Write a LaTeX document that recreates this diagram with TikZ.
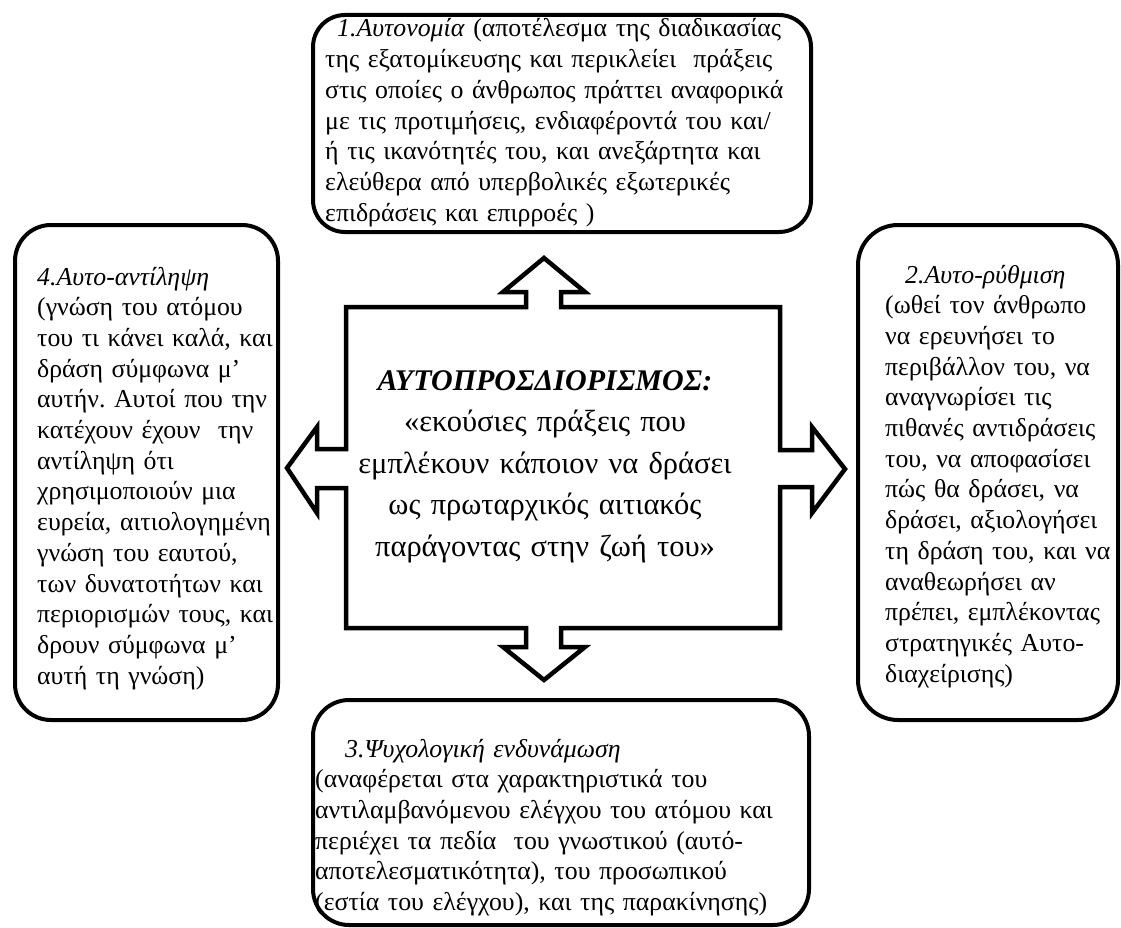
\documentclass[tikz,border=0pt]{standalone}
\usepackage{fontspec}
\setmainfont{Liberation Serif}
\usepackage{tikz}
\frenchspacing

\begin{document}
\begin{tikzpicture}[x=1pt,y=-1pt,
    frame/.style={draw,line width=4pt,rounded corners=#1},
    frame/.default=32pt,
    body/.style={inner sep=0pt,anchor=base west,align=left,text width=#1,
      font=\fontsize{25.8}{30.7}\selectfont},
    core/.style={inner sep=0pt,anchor=base,align=center,text width=440pt,
      font=\fontsize{30.5}{41.5}\selectfont}]
  \useasboundingbox (0,0) rectangle (1121,928);

  % the four rounded boxes
  \draw[frame] (313,15) rectangle (811,232);
  \draw[frame=36pt] (15,225) rectangle (278,720);
  \draw[frame=40pt] (858,225) rectangle (1118,720);
  \draw[frame=36pt] (313,700) rectangle (809,925);

  % square with the four arrows
  \draw[line width=4.5pt,line join=miter]
    (346,307) -- (526,307) -- (526,292) -- (503,292) -- (544,258)
    -- (585,292) -- (561,292) -- (561,307) -- (780,307)
    -- (780,450) -- (812,450) -- (812,427) -- (845,469)
    -- (812,513) -- (812,487) -- (780,487) -- (780,628)
    -- (561,628) -- (561,647) -- (585,647) -- (544,680)
    -- (503,647) -- (526,647) -- (526,628) -- (346,628)
    -- (346,488) -- (317,488) -- (317,513) -- (287,468)
    -- (317,427) -- (317,449) -- (346,449) -- cycle;

  \node[core] (self) at (545,390) {{\fontsize{30}{41.5}\selectfont\textbf{\textit{ΑΥΤΟΠΡΟΣΔΙΟΡΙΣΜΟΣ:}}}\\
    «εκούσιες πράξεις που\\
    εμπλέκουν κάποιον να δράσει\\
    ως πρωταρχικός αιτιακός\\
    παράγοντας στην ζωή του»};

  \node[body=520pt] (autonomy) at (325,37) {\hspace*{12pt}\textit{1.Αυτονομία} (αποτέλεσμα της διαδικασίας\\
    της εξατομίκευσης και περικλείει~ πράξεις\\
    στις οποίες ο άνθρωπος πράττει αναφορικά\\
    με τις προτιμήσεις, ενδιαφέροντά του και/\\
    ή τις ικανότητές του, και ανεξάρτητα και\\
    ελεύθερα από υπερβολικές εξωτερικές\\
    επιδράσεις και επιρροές )};

  \node[body=300pt] (regulation) at (885,283) {\hspace*{20pt}\textit{2.Αυτο-ρύθμιση}\\
    (ωθεί τον άνθρωπο\\
    να ερευνήσει το\\
    περιβάλλον του, να\\
    αναγνωρίσει τις\\
    πιθανές αντιδράσεις\\
    του, να αποφασίσει\\
    πώς θα δράσει, να\\
    δράσει, αξιολογήσει\\
    τη δράση του, και να\\
    αναθεωρήσει αν\\
    πρέπει, εμπλέκοντας\\
    στρατηγικές Αυτο-\\
    διαχείρισης)};

  \node[body=520pt] (empower) at (315,757) {\hspace*{30pt}\textit{3.Ψυχολογική ενδυνάμωση}\\
    (αναφέρεται στα χαρακτηριστικά του\\
    αντιλαμβανόμενου ελέγχου του ατόμου και\\
    περιέχει τα πεδία~ του γνωστικού (αυτό-\\
    αποτελεσματικότητα), του προσωπικού\\
    (εστία του ελέγχου), και της παρακίνησης)};

  \node[body=300pt] (perception) at (37,285) {\textit{4.Αυτο-αντίληψη}\\
    (γνώση του ατόμου\\
    του τι κάνει καλά, και\\
    δράση σύμφωνα μ’\\
    αυτήν. Αυτοί που την\\
    κατέχουν έχουν~ την\\
    αντίληψη ότι\\
    χρησιμοποιούν μια\\
    ευρεία, αιτιολογημένη\\
    γνώση του εαυτού,\\
    των δυνατοτήτων και\\
    περιορισμών τους, και\\
    δρουν σύμφωνα μ’\\
    αυτή τη γνώση)};
\end{tikzpicture}
\end{document}
